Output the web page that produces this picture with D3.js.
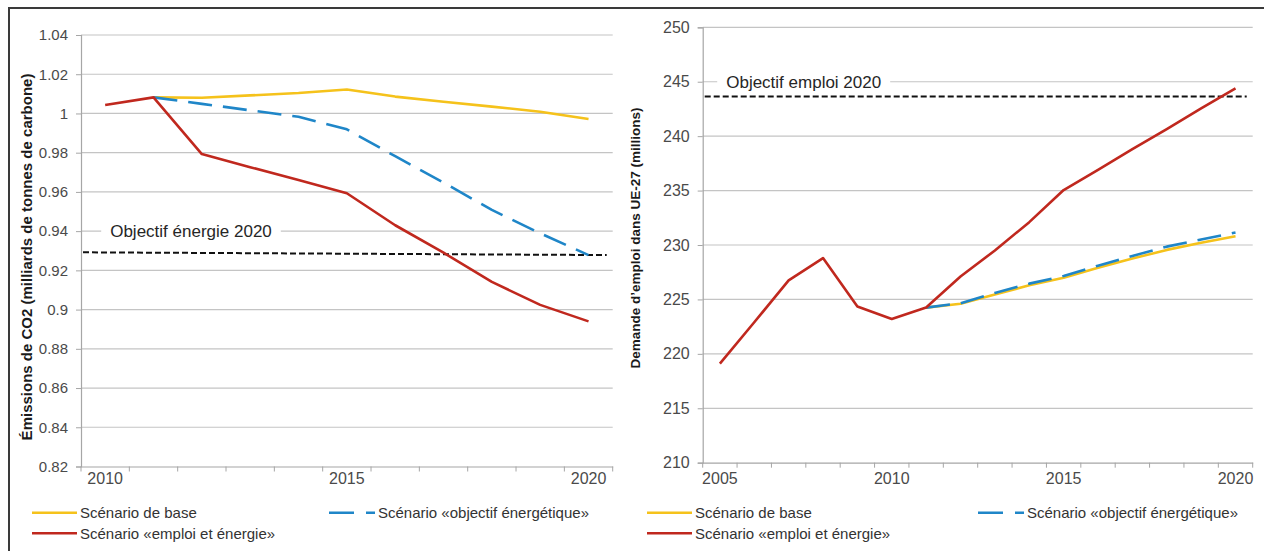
<!DOCTYPE html>
<html>
<head>
<meta charset="utf-8">
<script src="https://cdn.jsdelivr.net/npm/d3@7"></script>
<style>
  body { margin: 0; background: #fff; }
  svg { display: block; font-family: "Liberation Sans", Arial, sans-serif; }
</style>
</head>
<body>
<div id="chart"></div>
<script>

// ---- left panel : CO2 emissions (billion tonnes of carbon)
const co2Years = ["2010", "2011", "2012", "2013", "2014", "2015", "2016", "2017", "2018", "2019", "2020"];
const co2Base = [null, 1.0082, 1.0080, 1.0092, 1.0104, 1.0122, 1.0086, 1.0060, 1.0035, 1.0009, 0.9972];
const co2Objectif = [null, 1.0082, 1.0049, 1.0016, 0.9983, 0.9919, 0.9782, 0.9648, 0.9508, 0.9389, 0.9278];
const co2EmploiEnergie = [1.0043, 1.0082, 0.9793, 0.9726, 0.9661, 0.9593, 0.9430, 0.9290, 0.9141, 0.9024, 0.8940];
const co2Target = [0.9292, 0.9278];
const co2Ticks = [0.82, 0.84, 0.86, 0.88, 0.90, 0.92, 0.94, 0.96, 0.98, 1.00, 1.02, 1.04];
const co2YearLabels = ["2010", "2015", "2020"];

// ---- right panel : employment demand EU-27 (millions)
const jobYears = ["2005", "2006", "2007", "2008", "2009", "2010", "2011", "2012", "2013", "2014", "2015", "2016", "2017", "2018", "2019", "2020"];
const jobBase = [null, null, null, null, null, null, 224.25, 224.6, 225.45, 226.3, 227.0, 227.9, 228.75, 229.55, 230.2, 230.8];
const jobObjectif = [null, null, null, null, null, null, 224.25, 224.65, 225.6, 226.45, 227.15, 228.1, 229.0, 229.85, 230.5, 231.15];
const jobEmploiEnergie = [219.1, 222.9, 226.75, 228.8, 224.35, 223.2, 224.25, 227.1, 229.5, 232.1, 235.05, 236.9, 238.8, 240.65, 242.55, 244.4];
const jobTarget = [243.65, 243.65];
const jobTicks = [210, 215, 220, 225, 230, 235, 240, 245, 250];
const jobYearLabels = ["2005", "2010", "2015", "2020"];

const seriesNames = ["Scénario de base", "Scénario «objectif énergétique»", "Scénario «emploi et énergie»"];
const seriesColors = ["#f5c21b", "#1f86c8", "#c0281e"];
const blueDash = "25,12";

class ScenarioChart {

	constructor(svg, config) {
		this._svg = svg;
		this._config = config;
		this.initVis();
	}

	initVis() {
		let vis = this;
		let c = vis._config;

		vis.g = vis._svg.append("g");

		vis.x = d3.scaleBand()
			.domain(c.years)
			.range([c.left, c.right]);

		vis.y = d3.scaleLinear()
			.domain(d3.extent(c.yTicks))
			.range([c.bottom, c.top]);

		let cx = d => vis.x(d) + vis.x.bandwidth() / 2;

		// horizontal grid lines (the bottom one is the x axis)
		vis.g.append("g").selectAll("line")
			.data(c.yTicks.slice(1))
			.enter().append("line")
			.attr("x1", c.left)
			.attr("x2", c.right)
			.attr("y1", d => vis.y(d))
			.attr("y2", d => vis.y(d))
			.attr("stroke", "#c4c4c4")
			.attr("stroke-width", 1.2);

		// target label sitting on a grid line, with white box behind
		let lbl = vis.g.append("g");
		let lblText = lbl.append("text")
			.attr("x", c.left + c.labelOffset)
			.attr("y", vis.y(c.labelValue))
			.attr("text-anchor", "middle")
			.attr("dy", "0.35em")
			.attr("fill", "#262626")
			.style("font-size", "17px")
			.text(c.label);
		let bb = lblText.node().getBBox();
		lbl.insert("rect", "text")
			.attr("x", bb.x - 9)
			.attr("y", bb.y)
			.attr("width", bb.width + 18)
			.attr("height", bb.height)
			.attr("fill", "#fff");

		// y axis
		vis.yAxis = d3.axisLeft(vis.y)
			.tickValues(c.yTicks)
			.tickSize(5)
			.tickPadding(8)
			.tickFormat(c.yFormat);

		let ya = vis.g.append("g")
			.attr("class", "y-axis axis")
			.attr("transform", "translate(" + c.left + ",0)")
			.call(vis.yAxis)
			.attr("font-family", null)
			.attr("font-size", c.yFont);
		ya.select(".domain").attr("stroke", "#a6a6a6").attr("stroke-width", 1.2);
		ya.selectAll(".tick line").attr("stroke", "#a6a6a6");
		ya.selectAll(".tick text").attr("fill", "#4a4a4a");

		// x axis, labels every 5 years
		vis.xAxis = d3.axisBottom(vis.x)
			.tickValues(c.xLabels)
			.tickSize(0)
			.tickSizeOuter(0)
			.tickPadding(c.xPad);

		let xa = vis.g.append("g")
			.attr("class", "x-axis axis")
			.attr("transform", "translate(0," + c.bottom + ")")
			.call(vis.xAxis)
			.attr("font-family", null)
			.attr("font-size", 16);
		xa.select(".domain").attr("stroke", "#a6a6a6").attr("stroke-width", 1.2);
		xa.selectAll(".tick text").attr("fill", "#4a4a4a");

		// tick marks on category boundaries
		xa.selectAll(".bound")
			.data(c.years.map(d => vis.x(d)).concat([c.right]))
			.enter().append("line")
			.attr("class", "bound")
			.attr("x1", d => d).attr("x2", d => d)
			.attr("y1", 0).attr("y2", 5)
			.attr("stroke", "#a6a6a6");

		// dashed 2020 objective
		vis.g.append("path")
			.datum([[c.left + 2, c.target[0]], [c.right - 6, c.target[1]]])
			.attr("d", d3.line().x(d => d[0]).y(d => vis.y(d[1])))
			.attr("fill", "none")
			.attr("stroke", "#111")
			.attr("stroke-width", 2)
			.attr("stroke-dasharray", "6,3");

		// scenario lines
		vis.line = d3.line()
			.defined(d => d[1] != null)
			.x(d => cx(d[0]))
			.y(d => vis.y(d[1]));

		c.series.forEach((values, i) => {
			vis.g.append("path")
				.datum(c.years.map((yr, j) => [yr, values[j]]))
				.attr("d", vis.line)
				.attr("fill", "none")
				.attr("stroke", seriesColors[i])
				.attr("stroke-width", 2.6)
				.attr("stroke-linejoin", "round")
				.attr("stroke-dasharray", i == 1 ? "24,11" : null);
		});

		// y title
		vis.g.append("text")
			.attr("transform", "translate(" + c.titleX + "," + c.titleY + ") rotate(-90)")
			.attr("text-anchor", "middle")
			.attr("font-weight", "bold")
			.attr("fill", "#1a1a1a")
			.style("font-size", c.titleFont + "px")
			.text(c.title);

		// legend
		let leg = vis.g.append("g").selectAll("g")
			.data(c.legend)
			.enter().append("g")
			.attr("transform", d => "translate(" + d.x + "," + d.y + ")");

		leg.append("line")
			.attr("x1", 0).attr("x2", d => d.len)
			.attr("stroke", d => seriesColors[d.i])
			.attr("stroke-width", 2.6)
			.attr("stroke-dasharray", d => d.i == 1 ? blueDash : null);

		leg.append("text")
			.attr("x", d => d.len + 3)
			.attr("dy", "0.35em")
			.attr("fill", "#333")
			.style("font-size", "15px")
			.text(d => seriesNames[d.i]);
	}
}

let svg = d3.select("#chart").append("svg")
	.attr("width", 1264)
	.attr("height", 551);

svg.append("rect").attr("width", 1264).attr("height", 551).attr("fill", "#fff");

// outer frame
svg.append("path")
	.attr("d", "M9,551 L9,8 L1264,8")
	.attr("fill", "none")
	.attr("stroke", "#3a3a3a")
	.attr("stroke-width", 2);

new ScenarioChart(svg, {
	years: co2Years,
	series: [co2Base, co2Objectif, co2EmploiEnergie],
	target: co2Target,
	yTicks: co2Ticks,
	xLabels: co2YearLabels,
	yFormat: d3.format(".2~f"),
	left: 81, right: 612.7, top: 35, bottom: 466.5,
	yFont: 15, xPad: 6,
	label: "Objectif énergie 2020", labelValue: 0.94, labelOffset: 110,
	title: "Émissions de CO2 (milliards de tonnes de carbone)",
	titleX: 31.5, titleY: 257, titleFont: 15,
	legend: [
		{i: 0, x: 32, y: 512.7, len: 45},
		{i: 1, x: 329, y: 512.7, len: 46},
		{i: 2, x: 32, y: 533.3, len: 45}
	]
});

new ScenarioChart(svg, {
	years: jobYears,
	series: [jobBase, jobObjectif, jobEmploiEnergie],
	target: jobTarget,
	yTicks: jobTicks,
	xLabels: jobYearLabels,
	yFormat: d3.format("d"),
	left: 702.7, right: 1252.7, top: 27.3, bottom: 462.7,
	yFont: 16, xPad: 10,
	label: "Objectif emploi 2020", labelValue: 245, labelOffset: 101,
	title: "Demande d\u2019emploi dans UE-27 (millions)",
	titleX: 640, titleY: 238, titleFont: 13.5,
	legend: [
		{i: 0, x: 647, y: 512.7, len: 45},
		{i: 1, x: 978, y: 512.7, len: 46},
		{i: 2, x: 647, y: 533.3, len: 45}
	]
});

</script>
</body>
</html>
